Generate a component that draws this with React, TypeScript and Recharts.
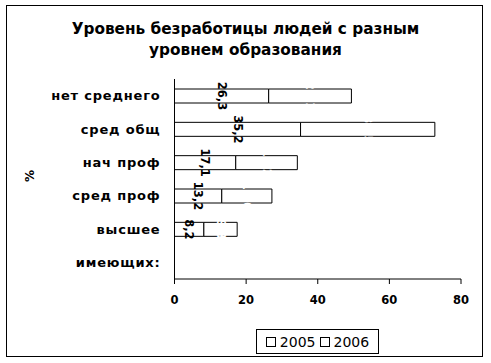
import React from 'react';
import { BarChart, Bar, XAxis, YAxis, LabelList } from 'recharts';

const categories = ['нет среднего', 'сред общ', 'нач проф', 'сред проф', 'высшее', 'имеющих:'];
const values2005 = [26.3, 35.2, 17.1, 13.2, 8.2, 0];
const values2006 = [23.1, 37.5, 17.2, 14.0, 9.3, 0];
const xTicks = [0, 20, 40, 60, 80];
const seriesNames = ['2005', '2006'];

const data = categories.map((c, i) => ({ name: c, y2005: values2005[i], y2006: values2006[i] }));

const FONT = 'DejaVu Sans, sans-serif';

const fmt = (v: number) => (v ? String(v.toFixed(1)).replace('.', ',') : '');

const makeLabel = (color: string) => (props: any) => {
  const { x, y, width, height, value } = props;
  if (!value) return null;
  const cx = Number(x) + Number(width) / 2;
  const cy = Number(y) + Number(height) / 2;
  return (
    <text
      x={cx}
      y={cy}
      transform={`rotate(90, ${cx}, ${cy})`}
      textAnchor="middle"
      dominantBaseline="central"
      fontFamily={FONT}
      fontWeight="bold"
      fontSize={11.5}
      fill={color}
    >
      {fmt(Number(value))}
    </text>
  );
};

export default function App() {
  return (
    <div style={{ position: 'absolute', left: 0, top: 0, width: 491, height: 363, background: '#fff' }}>
      <div
        style={{
          position: 'absolute',
          left: 6,
          top: 5,
          width: 475,
          height: 350,
          border: '1.5px solid #000',
        }}
      />
      <div
        style={{
          position: 'absolute',
          left: 0,
          top: 19,
          width: 491,
          textAlign: 'center',
          fontFamily: FONT,
          fontWeight: 'bold',
          fontSize: 15.3,
          lineHeight: '21px',
          color: '#000',
        }}
      >
        Уровень безработицы людей с разным
        <br />
        уровнем образования
      </div>
      <div
        style={{
          position: 'absolute',
          left: 24,
          top: 169,
          fontFamily: FONT,
          fontWeight: 'bold',
          fontSize: 12,
          transform: 'rotate(-90deg)',
          color: '#000',
        }}
      >
        %
      </div>
      <div style={{ position: 'absolute', left: 0, top: 0 }}>
        <BarChart
          width={491}
          height={363}
          data={data}
          layout="vertical"
          margin={{ top: 79, right: 30, bottom: 54, left: 0 }}
          barCategoryGap={0}
        >
          <XAxis
            type="number"
            domain={[0, 80]}
            ticks={xTicks}
            height={30}
            tickSize={5}
            tickMargin={12}
            axisLine={{ stroke: '#000' }}
            tickLine={{ stroke: '#000' }}
            tick={{ fill: '#000', fontFamily: FONT, fontWeight: 'bold', fontSize: 11.5 }}
          />
          <YAxis
            type="category"
            dataKey="name"
            width={174.5}
            tickSize={0}
            tickMargin={14}
            axisLine={{ stroke: '#000' }}
            tickLine={false}
            tick={{ fill: '#000', fontFamily: FONT, fontWeight: 'bold', fontSize: 13, letterSpacing: 0.8 }}
          />
          <Bar dataKey="y2005" name="2005" stackId="a" fill="#fff" stroke="#000" strokeWidth={1} barSize={14} isAnimationActive={false}>
            <LabelList dataKey="y2005" content={makeLabel('#000')} />
          </Bar>
          <Bar dataKey="y2006" name="2006" stackId="a" fill="#fff" stroke="#000" strokeWidth={1} barSize={14} isAnimationActive={false}>
            <LabelList dataKey="y2006" content={makeLabel('#fff')} />
          </Bar>
        </BarChart>
      </div>
      <div
        style={{
          position: 'absolute',
          left: 256,
          top: 329,
          width: 121,
          height: 23,
          border: '1px solid #000',
          background: '#fff',
          display: 'flex',
          alignItems: 'center',
          justifyContent: 'center',
          fontFamily: FONT,
          fontSize: 14,
          color: '#000',
          gap: 4,
        }}
      >
        {seriesNames.map((n) => (
          <span key={n} style={{ display: 'flex', alignItems: 'center', gap: 4 }}>
            <span style={{ display: 'inline-block', width: 8, height: 8, border: '1px solid #000', background: '#fff' }} />
            <span>{n}</span>
          </span>
        ))}
      </div>
    </div>
  );
}
